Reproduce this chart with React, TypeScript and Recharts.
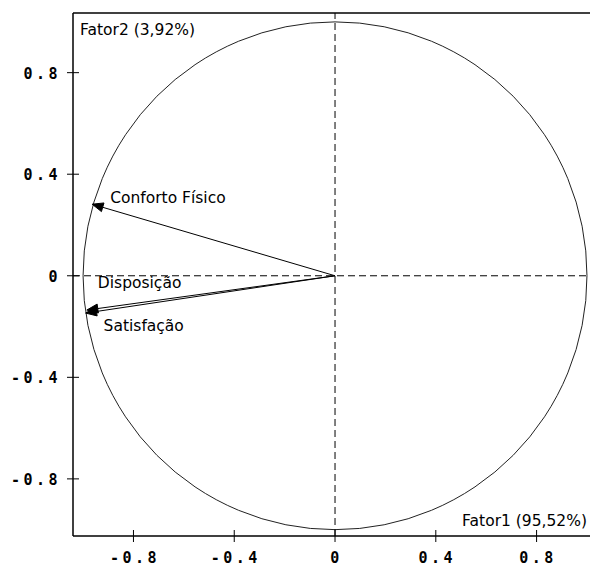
import { ScatterChart, XAxis, YAxis, ReferenceLine, ReferenceArea } from "recharts";

const tickValues = [-0.8, -0.4, 0, 0.4, 0.8];
const variableNames = ["Conforto Físico", "Disposição", "Satisfação"];
const factor1Loadings = [-0.964, -0.985, -0.99];
const factor2Loadings = [0.282, -0.135, -0.147];
const factor1Label = "Fator1 (95,52%)";
const factor2Label = "Fator2 (3,92%)";

const X_DOMAIN: [number, number] = [-1.04, 1.012];
const Y_DOMAIN: [number, number] = [-1.025, 1.035];

// label offsets (px) from the arrow tip
const labelOffsets: Record<string, [number, number]> = {
  "Conforto Físico": [18, -1],
  "Disposição": [11, -22],
  "Satisfação": [18, 18],
};

const labelFont = "'DejaVu Sans', sans-serif";
const tickFont = "'DejaVu Sans Mono', monospace";

function YTick(props: any) {
  const { x, y, payload } = props;
  return (
    <g>
      <line x1={x - 6} x2={x + 6} y1={y} y2={y} stroke="#000" />
      <text
        x={x - 12}
        y={y + 6}
        textAnchor="end"
        fontFamily={tickFont}
        fontWeight="bold"
        fontSize={15}
        letterSpacing={3.5}
        fill="#000"
      >
        {String(payload.value)}
      </text>
    </g>
  );
}

function XTick(props: any) {
  const { x, y, payload } = props;
  return (
    <g>
      <line x1={x} x2={x} y1={y - 6} y2={y + 6} stroke="#000" />
      <text
        x={x + 1.5}
        y={y + 27}
        textAnchor="middle"
        fontFamily={tickFont}
        fontWeight="bold"
        fontSize={15}
        letterSpacing={3.5}
        fill="#000"
      >
        {String(payload.value)}
      </text>
    </g>
  );
}

function arrowShape(name: string) {
  return (props: any) => {
    const { x1, y1, x2, y2 } = props;
    const ang = Math.atan2(y2 - y1, x2 - x1);
    const len = 11;
    const half = 4.5;
    const bx = x2 - len * Math.cos(ang);
    const by = y2 - len * Math.sin(ang);
    const px = -Math.sin(ang) * half;
    const py = Math.cos(ang) * half;
    const [dx, dy] = labelOffsets[name];
    return (
      <g>
        <line x1={x1} y1={y1} x2={bx} y2={by} stroke="#000" strokeWidth={1} />
        <polygon
          points={`${x2},${y2} ${bx + px},${by + py} ${bx - px},${by - py}`}
          fill="#000"
          stroke="#000"
        />
        <text x={x2 + dx} y={y2 + dy} fontFamily={labelFont} fontSize={15.5} fill="#000">
          {name}
        </text>
      </g>
    );
  };
}

function CircleShape(props: any) {
  const { x, y, width, height } = props;
  return (
    <ellipse
      cx={x + width / 2}
      cy={y + height / 2}
      rx={width / 2}
      ry={height / 2}
      fill="none"
      stroke="#222"
      strokeWidth={1}
    />
  );
}

export default function App() {
  return (
    <>
      <style>{"body{margin:0;overflow:hidden;background:#fff}"}</style>
      <ScatterChart width={590} height={567} margin={{ top: 13, right: 0, left: 0, bottom: 0 }}>
        <XAxis
          type="number"
          dataKey="x"
          domain={X_DOMAIN}
          ticks={tickValues}
          allowDataOverflow
          height={31}
          tickSize={0}
          tickMargin={0}
          tickLine={false}
          axisLine={{ stroke: "#000", strokeWidth: 1.5 }}
          tick={<XTick />}
          interval={0}
        />
        <YAxis
          type="number"
          dataKey="y"
          domain={Y_DOMAIN}
          ticks={tickValues}
          allowDataOverflow
          width={73}
          tickSize={0}
          tickMargin={0}
          tickLine={false}
          axisLine={{ stroke: "#000", strokeWidth: 1.5 }}
          tick={<YTick />}
          interval={0}
        />
        <ReferenceLine y={Y_DOMAIN[1]} stroke="#000" strokeWidth={1.5} ifOverflow="visible" />
        <ReferenceLine
          y={Y_DOMAIN[1]}
          ifOverflow="visible"
          shape={(p: any) => (
            <text x={p.x1 + 7} y={p.y1 + 22} fontFamily={labelFont} fontSize={15.5} fill="#000">
              {factor2Label}
            </text>
          )}
        />
        <ReferenceLine
          y={Y_DOMAIN[0]}
          ifOverflow="visible"
          shape={(p: any) => (
            <text x={p.x2 - 3} y={p.y2 - 10} textAnchor="end" fontFamily={labelFont} fontSize={15.5} fill="#000">
              {factor1Label}
            </text>
          )}
        />
        <ReferenceLine x={0} stroke="#000" strokeDasharray="7 4" />
        <ReferenceLine y={0} stroke="#000" strokeDasharray="7 4" />
        <ReferenceArea x1={-1} x2={1} y1={-1} y2={1} shape={<CircleShape />} ifOverflow="visible" />
        {variableNames.map((name, i) => (
          <ReferenceLine
            key={name}
            segment={[
              { x: 0, y: 0 },
              { x: factor1Loadings[i], y: factor2Loadings[i] },
            ]}
            ifOverflow="visible"
            shape={arrowShape(name)}
          />
        ))}
      </ScatterChart>
    </>
  );
}
